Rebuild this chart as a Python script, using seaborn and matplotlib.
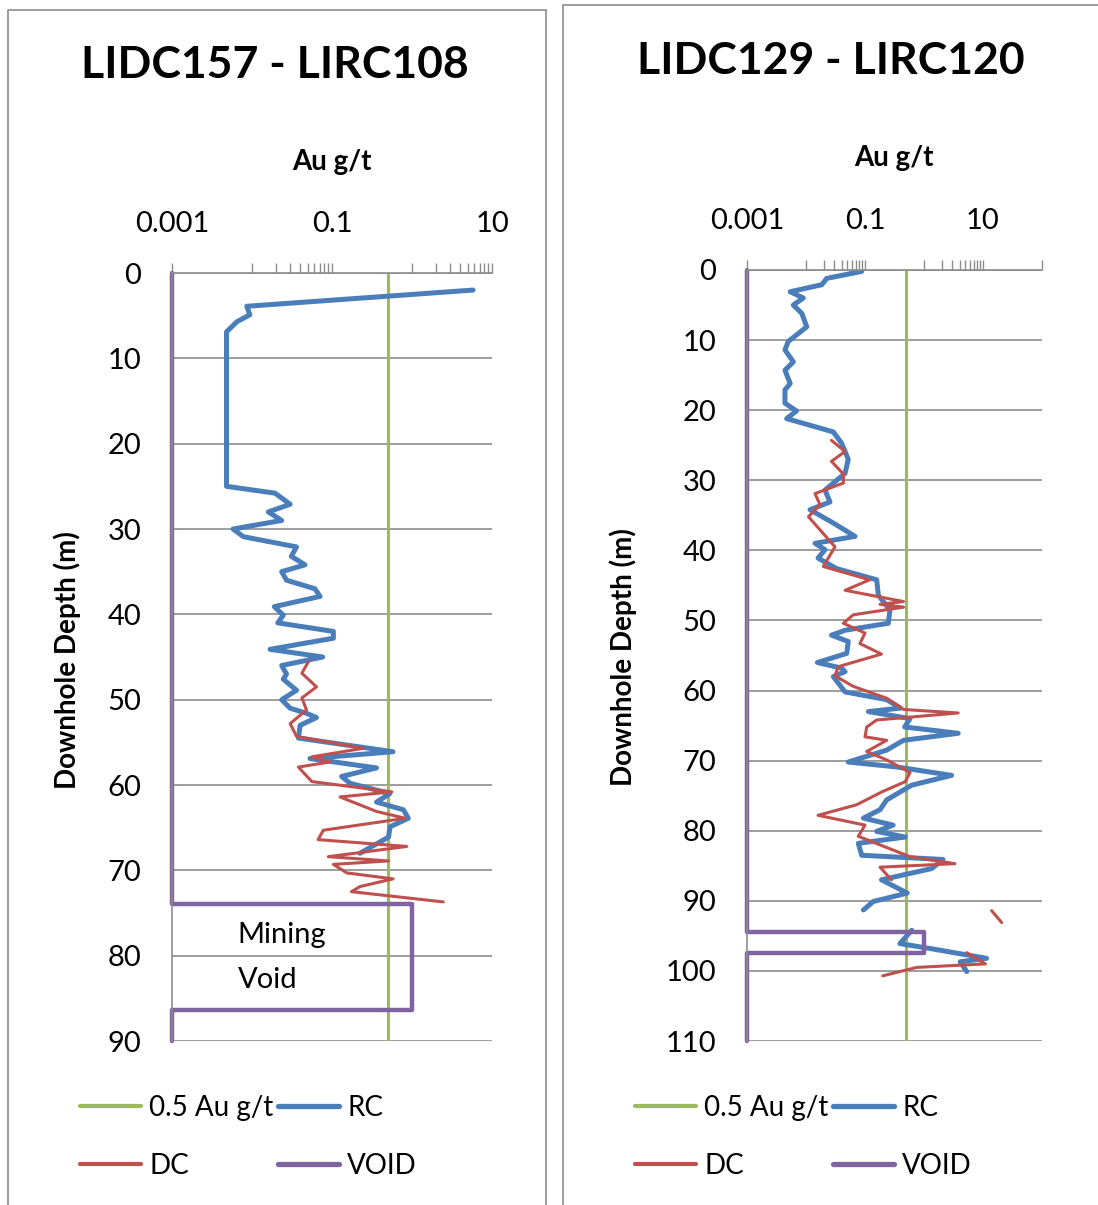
import numpy as np
import pandas as pd
import matplotlib
matplotlib.use("Agg")
import matplotlib.pyplot as plt
from matplotlib.lines import Line2D
from matplotlib.patches import Rectangle
from matplotlib.ticker import FixedLocator, NullFormatter
import seaborn as sns

# ---------------- data ----------------
# LIDC157 - LIRC108
rc1_depth = [2.0, 3.9, 4.9, 5.7, 6.9, 25.0, 25.8, 27.1, 28.0, 29.0,
             30.0, 30.9, 32.1, 33.2, 34.2, 35.0, 36.0, 37.0, 37.9, 39.1,
             40.1, 41.0, 42.0, 42.8, 44.1, 45.0, 46.0, 47.0, 47.6, 48.9,
             50.0, 51.0, 51.6, 52.1, 53.0, 54.5, 56.1, 56.9, 58.0, 59.0,
             59.8, 61.0, 62.0, 62.9, 63.9, 64.9, 66.1, 68.0]
rc1_au = [5.8, 0.0086, 0.0094, 0.0065, 0.0048, 0.0048, 0.0194, 0.030, 0.016, 0.0235,
          0.0058, 0.0078, 0.036, 0.031, 0.046, 0.0235, 0.027, 0.061, 0.071, 0.019,
          0.0246, 0.021, 0.104, 0.104, 0.0168, 0.0765, 0.0235, 0.027, 0.0246, 0.036,
          0.0235, 0.030, 0.048, 0.064, 0.040, 0.038, 0.58, 0.053, 0.36, 0.132,
          0.168, 0.53, 0.36, 0.78, 0.90, 0.53, 0.51, 0.224]
dc1_depth = [45.5, 46.9, 48.5, 49.8, 51.2, 52.8, 54.3, 55.7, 56.7, 57.3,
             57.9, 59.6, 60.8, 61.4, 63.1, 63.9, 65.3, 66.4, 67.2, 68.4,
             68.9, 69.3, 70.3, 71.0, 71.9, 72.5, 73.7]
dc1_au = [0.051, 0.042, 0.064, 0.042, 0.048, 0.030, 0.036, 0.246, 0.056, 0.094,
          0.038, 0.056, 0.56, 0.126, 0.36, 0.82, 0.078, 0.067, 0.86, 0.090,
          0.51, 0.104, 0.153, 0.58, 0.224, 0.175, 2.46]
void1_depth = [0, 74.0, 74.0, 86.4, 86.4, 90]
void1_au = [0.001, 0.001, 1.0, 1.0, 0.001, 0.001]

# LIDC129 - LIRC120
rc2_depth = [0.2, 1.2, 2.1, 3.1, 4.0, 5.0, 6.2, 8.1, 10.2, 11.4,
             13.1, 14.3, 16.2, 17.1, 19.0, 20.1, 21.2, 23.1, 24.7, 27.0,
             29.0, 31.4, 33.1, 34.2, 36.1, 38.0, 39.0, 39.9, 41.1, 42.6,
             44.2, 46.4, 48.5, 50.4, 51.4, 52.1, 53.0, 54.7, 56.0, 56.8,
             57.3, 58.0, 60.2, 61.3, 62.5, 63.0, 64.0, 65.2, 66.1, 67.1,
             68.5, 70.2, 70.9, 72.1, 73.5, 75.6, 77.0, 78.2, 79.2, 80.1,
             80.9, 81.8, 83.5, 84.1, 85.4, 87.0, 88.9, 90.1, 91.3, 92.7,
             94.2, 96.1, 96.8, 98.2, 98.7, 100.1]
rc2_au = [0.088, 0.0224, 0.0185, 0.0054, 0.009, 0.0061, 0.0085, 0.0103, 0.005, 0.0044,
          0.0061, 0.0044, 0.0054, 0.0044, 0.0044, 0.0069, 0.0047, 0.029, 0.040, 0.052,
          0.046, 0.021, 0.0255, 0.0117, 0.029, 0.068, 0.0142, 0.021, 0.016, 0.033,
          0.158, 0.168, 0.265, 0.248, 0.046, 0.027, 0.052, 0.049, 0.0156, 0.040,
          0.046, 0.029, 0.046, 0.233, 0.40, 0.114, 0.58, 0.47, 3.8, 0.45,
          0.233, 0.052, 0.344, 2.94, 0.62, 0.233, 0.18, 0.094, 0.30, 0.158,
          0.48, 0.077, 0.088, 2.1, 1.35, 0.19, 0.52, 0.138, 0.094, np.nan,
          0.62, 0.39, 1.26, 11.5, 4.1, 5.3]
dc2_depth = [24.3, 25.9, 27.3, 29.1, 30.4, 31.9, 33.5, 35.2, 39.5, 42.3,
             44.2, 45.7, 47.3, 47.7, 48.1, 49.2, 50.4, 51.8, 53.3, 54.8,
             56.6, 57.9, 59.4, 61.1, 62.7, 63.2, 64.2, 65.2, 66.6, 67.1,
             68.7, 69.9, 71.7, 73.0, 74.4, 76.3, 77.8, 79.2, 80.8, 82.3,
             83.7, 84.7, 85.2, 87.0, 89.0, 91.4, 93.1, 95.0, 97.4, 99.0,
             99.5, 100.7]
dc2_au = [0.027, 0.046, 0.027, 0.043, 0.043, 0.0142, 0.0173, 0.011, 0.031, 0.0196,
          0.12, 0.046, 0.45, 0.18, 0.45, 0.063, 0.043, 0.1, 0.082, 0.19,
          0.035, 0.031, 0.063, 0.233, 0.45, 3.8, 0.158, 0.107, 0.1, 0.233,
          0.107, 0.233, 0.58, 0.48, 0.20, 0.072, 0.016, 0.1, 0.077, 0.218,
          0.58, 3.35, 0.18, 0.28, np.nan, 14.0, 20.7, np.nan, 5.3, 11.0,
          0.75, 0.20]
void2_depth = [0, 94.5, 94.5, 97.5, 97.5, 110]
void2_au = [0.001, 0.001, 1.0, 1.0, 0.001, 0.001]

cutoff = 0.5
titles = ["LIDC157 - LIRC108", "LIDC129 - LIRC120"]
legend_labels = ["0.5 Au g/t", "RC", "DC", "VOID"]
major_ticks = [0.001, 0.1, 10]
major_labels = ["0.001", "0.1", "10"]

# ---------------- style ----------------
C_GREEN = "#9BBB59"
C_BLUE = "#4A7EBB"
C_RED = "#C0504D"
C_PURPLE = "#8064A2"
C_GRID = "#8C8C8C"

sns.set_theme(style="white")
plt.rcParams["font.family"] = ["Lato", "DejaVu Sans"]
plt.rcParams["text.color"] = "black"
plt.rcParams["xtick.color"] = C_GRID
plt.rcParams["ytick.color"] = C_GRID
plt.rcParams["xtick.labelcolor"] = "black"
plt.rcParams["ytick.labelcolor"] = "black"

W, H = 1098, 1205
fig = plt.figure(figsize=(W / 100, H / 100), dpi=100)


def fx(px):
    return px / W


def fy(py):
    return 1 - py / H


def segments(depth, au):
    df = pd.DataFrame({"depth": depth, "au": au})
    df["seg"] = df["au"].isna().cumsum()
    return df.dropna()


def draw_panel(ax, rc, dc, void, xmax, ymax):
    ax.set_xscale("log")
    line_kw = dict(estimator=None, sort=False, ax=ax, legend=False,
                   solid_joinstyle="round", solid_capstyle="round")
    sns.lineplot(x=[cutoff, cutoff], y=[0, ymax], color=C_GREEN, lw=2.2, **line_kw)
    df = segments(*rc)
    sns.lineplot(data=df, x="au", y="depth", units="seg", color=C_BLUE, lw=3.6, **line_kw)
    df = segments(*dc)
    sns.lineplot(data=df, x="au", y="depth", units="seg", color=C_RED, lw=2.2, **line_kw)
    sns.lineplot(x=void[1], y=void[0], color=C_PURPLE, lw=3.2, clip_on=False, **line_kw)

    ax.set_xlim(0.001, xmax)
    ax.set_ylim(ymax, 0)
    ax.set_xlabel("")
    ax.set_ylabel("")

    ax.xaxis.tick_top()
    ax.set_xticks(major_ticks)
    ax.set_xticklabels(major_labels)
    minor = [k * 0.01 for k in range(1, 10)] + [float(k) for k in range(1, 10)]
    if xmax > 10:
        minor.append(xmax)
    ax.xaxis.set_minor_locator(FixedLocator(minor))
    ax.xaxis.set_minor_formatter(NullFormatter())
    ax.tick_params(axis="x", which="both", direction="out", length=7, width=1.0,
                   top=True, bottom=False, labeltop=True, labelbottom=False)
    ax.tick_params(axis="x", which="major", labelsize=21, pad=19)

    ax.set_yticks(range(0, ymax + 1, 10))
    ax.tick_params(axis="y", which="major", direction="in", length=7, width=1.2,
                   labelsize=21, pad=22)
    ax.yaxis.grid(True, color=C_GRID, lw=1.2)
    ax.xaxis.grid(False)
    for side in ("right", "bottom"):
        ax.spines[side].set_visible(False)
    for side in ("top", "left"):
        ax.spines[side].set_color(C_GRID)
        ax.spines[side].set_linewidth(1.2)

    handles = [Line2D([], [], color=C_GREEN, lw=3.0),
               Line2D([], [], color=C_RED, lw=3.0),
               Line2D([], [], color=C_BLUE, lw=3.8),
               Line2D([], [], color=C_PURPLE, lw=3.8)]
    labels = [legend_labels[0], legend_labels[2], legend_labels[1], legend_labels[3]]
    return handles, labels


# panel frames
for x0, x1, y0 in ((8, 546, 10), (563, 1110, 5)):
    fig.add_artist(Rectangle((fx(x0), fy(1230)), fx(x1) - fx(x0), fy(y0) - fy(1230),
                             transform=fig.transFigure, fill=False,
                             edgecolor="#8C8C8C", lw=1.2))

ax1 = fig.add_axes([fx(172), fy(1041), fx(492) - fx(172), fy(273) - fy(1041)])
ax2 = fig.add_axes([fx(747), fy(1041), fx(1042) - fx(747), fy(270) - fy(1041)])

h1, l1 = draw_panel(ax1, (rc1_depth, rc1_au), (dc1_depth, dc1_au),
                    (void1_depth, void1_au), 10, 90)
h2, l2 = draw_panel(ax2, (rc2_depth, rc2_au), (dc2_depth, dc2_au),
                    (void2_depth, void2_au), 100, 110)

ax1.text(0.0066, 77.6, "Mining", fontsize=21, ha="left", va="center")
ax1.text(0.0066, 82.8, "Void", fontsize=21, ha="left", va="center")

# titles and axis titles
for cx, cy, t in ((275, 65, titles[0]), (831, 61, titles[1])):
    fig.text(fx(cx), fy(cy), t, fontsize=32, fontweight="bold", ha="center", va="center")
for cx, cy in ((332, 162), (894, 158)):
    fig.text(fx(cx), fy(cy), "Au g/t", fontsize=20, fontweight="bold", ha="center", va="center")
for cx, cy in ((67, 660), (623, 657)):
    fig.text(fx(cx), fy(cy), "Downhole Depth (m)", fontsize=20, fontweight="bold",
             rotation=90, ha="center", va="center")

# legends
for ax, (h, l), lx in ((ax1, (h1, l1), 80), (ax2, (h2, l2), 635)):
    ax.legend(h, l, ncol=2, frameon=False, fontsize=20, loc="center left",
              bbox_to_anchor=(fx(lx), fy(1137)), bbox_transform=fig.transFigure,
              handlelength=2.2, handletextpad=0.3, columnspacing=0.15,
              labelspacing=1.15, borderaxespad=0, borderpad=0)

fig.savefig("out.png", dpi=100)
